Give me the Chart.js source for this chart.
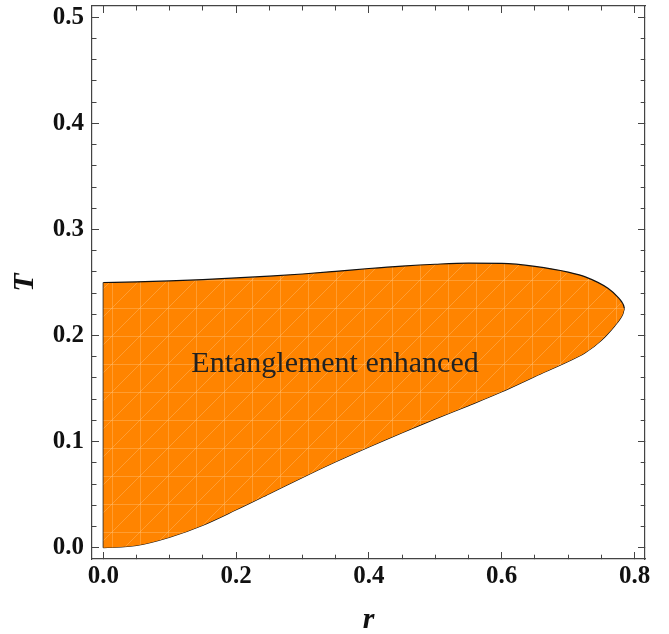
<!DOCTYPE html>
<html>
<head>
<meta charset="utf-8">
<script src="https://cdn.jsdelivr.net/npm/chart.js@4.4.0/dist/chart.umd.min.js"></script>
<style>
  html, body { margin: 0; padding: 0; background: #fff; }
</style>
</head>
<body>
<canvas id="regionChart" width="669" height="634"></canvas>
<script>
// 領域の上側の境界 (r, T)
const upperR = [0, 0.05, 0.1, 0.15, 0.2, 0.25, 0.3, 0.35, 0.4, 0.45, 0.5, 0.55, 0.6, 0.65, 0.7, 0.725, 0.76, 0.776, 0.781, 0.7835, 0.7847];
const upperT = [0.25, 0.2505, 0.2515, 0.2528, 0.2543, 0.256, 0.258, 0.2605, 0.2632, 0.2655, 0.2672, 0.2682, 0.268, 0.2652, 0.2598, 0.2555, 0.2445, 0.2355, 0.2315, 0.2285, 0.2257];
// 領域の下側の境界 (r, T)
const lowerR = [0, 0.05, 0.1, 0.15, 0.2, 0.25, 0.3, 0.35, 0.4, 0.45, 0.5, 0.55, 0.6, 0.65, 0.7, 0.725, 0.75, 0.77, 0.778, 0.7825, 0.7847];
const lowerT = [0, 0.0022, 0.010, 0.0213, 0.0358, 0.051, 0.0663, 0.081, 0.095, 0.1085, 0.1215, 0.134, 0.147, 0.1615, 0.1755, 0.1835, 0.1955, 0.209, 0.2155, 0.2205, 0.2257];
// r = 0 の縦の辺
const edgeR = [0, 0];
const edgeT = [0, 0.25];

// 目盛りラベル
const xTickLabels = ['0.0', '0.2', '0.4', '0.6', '0.8'];
const yTickLabels = ['0.0', '0.1', '0.2', '0.3', '0.4', '0.5'];
const regionLabel = 'Entanglement enhanced';

const fillColor = '#ff8400';
const frameColor = '#444';
const serif = '"Liberation Serif", "Times New Roman", serif';

// Mathematicaっぽいメッシュ模様
function meshPattern() {
    const c = document.createElement('canvas');
    c.width = 28; c.height = 28;
    const g = c.getContext('2d');
    g.fillStyle = fillColor;
    g.fillRect(0, 0, 28, 28);
    g.strokeStyle = 'rgba(255, 200, 130, 0.38)';
    g.lineWidth = 1;
    g.beginPath();
    g.moveTo(0.5, 0); g.lineTo(0.5, 28);
    g.moveTo(0, 0.5); g.lineTo(28, 0.5);
    g.moveTo(0, 28); g.lineTo(28, 0);
    g.stroke();
    return g.createPattern(c, 'repeat');
}

function toPoints(xs, ys) {
    return xs.map((x, i) => ({ x: x, y: ys[i] }));
}

function isMajor(v, step) {
    return Math.abs(v / step - Math.round(v / step)) < 1e-6;
}

// 内向きの目盛り (短い補助目盛りは破線で切る)
function tickDash(step, reversed) {
    return (ctx) => {
        if (!ctx.tick) return [];
        if (isMajor(ctx.tick.value, step)) return [];
        return reversed ? [0, 2.5, 4.5, 30] : [4.5, 30];
    };
}

function axis(position, min, max, step, majorStep, labels, reversed, size, showLabels) {
    return {
        type: 'linear',
        position: position,
        min: min,
        max: max,
        afterFit: (s) => {
            if (s.isHorizontal()) s.height = size; else s.width = size;
            // ラベルのはみ出し分の余白はいらない
            s.paddingTop = 0; s.paddingBottom = 0;
            s.paddingLeft = 0; s.paddingRight = 0;
        },
        border: { display: true, color: frameColor, width: 1.2 },
        grid: {
            display: true,
            drawOnChartArea: false,
            drawTicks: true,
            tickLength: -7,
            tickColor: frameColor,
            tickWidth: 1,
            tickBorderDash: tickDash(majorStep, reversed)
        },
        ticks: {
            display: showLabels,
            stepSize: step,
            includeBounds: false,
            autoSkip: false,
            maxRotation: 0,
            padding: position === 'left' ? 15 : 10,
            color: '#111',
            font: { family: serif, size: 25, weight: 'bold' },
            callback: (v) => {
                const lbl = v.toFixed(1);
                return isMajor(v, majorStep) && labels.includes(lbl) ? lbl : '';
            }
        }
    };
}

// 領域内のテキスト
const labelPlugin = {
    id: 'regionLabel',
    afterDatasetsDraw(chart) {
        const { ctx, scales } = chart;
        ctx.save();
        ctx.font = '30px ' + serif;
        ctx.fillStyle = '#222';
        ctx.textAlign = 'center';
        ctx.textBaseline = 'alphabetic';
        ctx.fillText(regionLabel, scales.x.getPixelForValue(0.349), scales.y.getPixelForValue(0.166));
        ctx.restore();
    }
};

let chart;

function renderChart() {
    const ctx = document.getElementById('regionChart').getContext('2d');
    const xScale = axis('bottom', -0.017, 0.8158, 0.05, 0.2, xTickLabels, false, 75, true);
    xScale.title = {
        display: true, text: 'r', color: '#111',
        font: { family: serif, size: 30, style: 'italic', weight: 'bold' },
        padding: { top: 0, bottom: -4 }
    };
    const yScale = axis('left', -0.0106, 0.5106, 0.02, 0.1, yTickLabels, true, 92, true);
    yScale.title = {
        display: true, text: 'T', color: '#111',
        font: { family: serif, size: 30, style: 'italic', weight: 'bold' },
        padding: { top: 7, bottom: 0 }
    };
    const x2Scale = axis('top', -0.017, 0.8158, 0.05, 0.2, xTickLabels, true, 6, false);
    const y2Scale = axis('right', -0.0106, 0.5106, 0.02, 0.1, yTickLabels, false, 24, false);

    chart = new Chart(ctx, {
        type: 'line',
        data: {
            datasets: [{
                label: 'upper',
                data: toPoints(upperR, upperT),
                borderColor: '#111',
                borderWidth: 1.2,
                backgroundColor: meshPattern(),
                fill: '+1',
                pointRadius: 0,
                cubicInterpolationMode: 'monotone'
            }, {
                label: 'lower',
                data: toPoints(lowerR, lowerT),
                borderColor: '#111',
                borderWidth: 1.2,
                fill: false,
                pointRadius: 0,
                cubicInterpolationMode: 'monotone'
            }, {
                label: 'edge',
                data: toPoints(edgeR, edgeT),
                borderColor: '#111',
                borderWidth: 1.2,
                fill: false,
                pointRadius: 0
            }]
        },
        options: {
            responsive: false,
            animation: false,
            devicePixelRatio: 1,
            layout: { padding: 0 },
            scales: { x: xScale, y: yScale, x2: x2Scale, y2: y2Scale },
            plugins: {
                legend: { display: false },
                tooltip: { enabled: false }
            }
        },
        plugins: [labelPlugin]
    });
}

renderChart();
</script>
</body>
</html>
